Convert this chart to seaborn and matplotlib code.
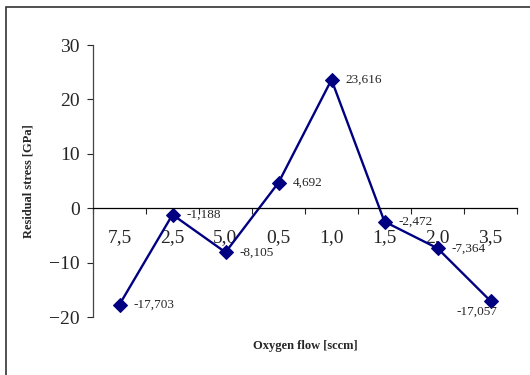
import matplotlib
matplotlib.use("Agg")
import matplotlib.pyplot as plt
from matplotlib.patches import Rectangle
import numpy as np
import pandas as pd
import seaborn as sns

flows = ["7,5", "2,5", "5,0", "0,5", "1,0", "1,5", "2,0", "3,5"]
stress = [-17.703, -1.188, -8.105, 4.692, 23.616, -2.472, -7.364, -17.057]
point_labels = ["-17,703", "-1,188", "-8,105", "4,692", "23,616", "-2,472", "-7,364", "-17,057"]

sns.set_style("white")
plt.rcParams["font.family"] = ["Liberation Serif", "DejaVu Serif"]

df = pd.DataFrame({"pos": np.arange(len(flows)), "stress": stress})

fig = plt.figure(figsize=(5.3, 3.75), dpi=100)
ax = fig.add_axes([93 / 530, 1 - 317 / 375, 424 / 530, 272 / 375])

sns.lineplot(data=df, x="pos", y="stress", ax=ax, color="#000080", lw=1.7,
             marker="D", markersize=7.5, markeredgecolor="#000080")

for i, (v, lab) in enumerate(zip(stress, point_labels)):
    if i == len(stress) - 1:
        ax.annotate(lab, (i, v), xytext=(-10, -8), textcoords="offset points",
                    ha="center", va="center", fontsize=9.5)
    else:
        ax.annotate(lab, (i, v), xytext=(10, 0), textcoords="offset points",
                    ha="left", va="center", fontsize=9.5)

ax.set_xlim(-0.5, len(flows) - 0.5)
ax.set_ylim(-20, 30)
ax.set_yticks([-20, -10, 0, 10, 20, 30])
ax.tick_params(axis="y", direction="out", length=4.5, width=0.8, labelsize=14, pad=5, left=True)

ax.set_xticks(np.arange(len(flows) + 1) - 0.5)
ax.set_xticklabels([])
ax.set_xticks(np.arange(len(flows)), minor=True)
ax.set_xticklabels(flows, minor=True)
ax.tick_params(axis="x", which="major", direction="out", length=4.5, width=0.8, bottom=True)
ax.tick_params(axis="x", which="minor", length=0, labelsize=14, pad=15)

for s in ["top", "right"]:
    ax.spines[s].set_visible(False)
ax.spines["bottom"].set_position(("data", 0))
ax.spines["bottom"].set_color("black")
ax.spines["bottom"].set_linewidth(0.9)
ax.spines["left"].set_color("#444444")
ax.spines["left"].set_linewidth(0.9)

ax.set_xlabel("Oxygen flow [sccm]", fontsize=9, fontweight="bold")
ax.set_ylabel("Residual stress [GPa]", fontsize=9, fontweight="bold")
ax.xaxis.set_label_coords(0.5, -0.083)
ax.yaxis.set_label_coords(-0.137, 0.5)

fig.patches.append(Rectangle((6 / 530, -0.1), 1.2, 0.1 + 1 - 7 / 375,
                             transform=fig.transFigure, fill=False,
                             edgecolor="#333333", lw=1.2))

fig.savefig("out.png", dpi=100)
